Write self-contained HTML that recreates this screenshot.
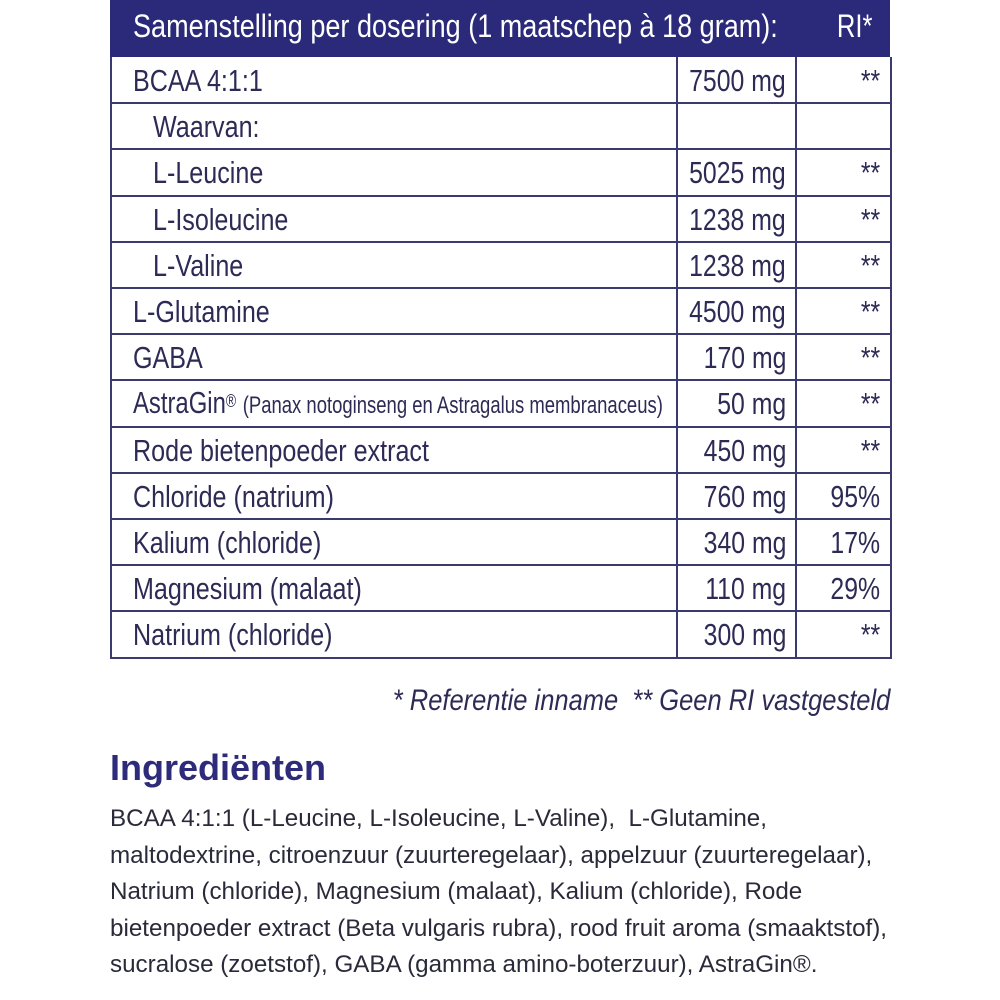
<!DOCTYPE html>
<html><head><meta charset="utf-8"><style>
body{margin:0;width:1000px;height:1000px;background:#fff;position:relative;overflow:hidden;font-family:"Liberation Sans",sans-serif;color:#2d2b55}
.hdr{position:absolute;left:110px;top:0;width:780px;height:57px;background:#2b2a7a;color:#fff;font-size:32px}
.t{position:absolute;white-space:nowrap;line-height:46px}
.L{transform:scaleX(0.81);transform-origin:left center}
.R{transform:scaleX(0.8);transform-origin:right center}
.vl{position:absolute;top:57px;width:2px;height:601px;background:#3b3a6e}
.c{font-size:31px}
.ing{position:absolute;left:110px;font-size:24.2px;white-space:nowrap;color:#2a2a3a}
</style></head><body>
<div class="hdr"><span class="t L" style="left:23px;top:3px;transform:scaleX(0.845)">Samenstelling per dosering (1 maatschep à 18 gram):</span><span class="t R" style="right:18px;top:3px">RI*</span></div>
<div style="position:absolute;left:110px;top:57px;width:778px;height:600px;border:2px solid #3b3a6e;border-top:none"></div>
<div class="vl" style="left:676px"></div><div class="vl" style="left:795px"></div>
<div id="rows"></div>
<script>
var d=[["BCAA 4:1:1","7500 mg","**",0],["Waarvan:","","",1],["L-Leucine","5025 mg","**",1],["L-Isoleucine","1238 mg","**",1],["L-Valine","1238 mg","**",1],["L-Glutamine","4500 mg","**",0],["GABA","170 mg","**",0],["AstraGin<span style='font-size:18px;vertical-align:6px'>®</span> <span style='font-size:24px'>(Panax notoginseng en Astragalus membranaceus)</span>","50 mg","**",0],["Rode bietenpoeder extract","450 mg","**",0],["Chloride (natrium)","760 mg","95%",0],["Kalium (chloride)","340 mg","17%",0],["Magnesium (malaat)","110 mg","29%",0],["Natrium (chloride)","300 mg","**",0]];
var h="";for(var i=0;i<d.length;i++){var y=57+i*46.2;
if(i>0)h+="<div style='position:absolute;left:110px;width:780px;height:2px;background:#3b3a6e;top:"+(y-1)+"px'></div>";
var st=(i==7)?"transform:scaleX(0.77);":"";
h+="<span class='t c L' style='"+st+"left:"+(d[i][3]?153:133)+"px;top:"+(y+(i==7?-2:1))+"px'>"+d[i][0]+"</span>";
h+="<span class='t c R' style='right:214px;top:"+(y+1)+"px'>"+d[i][1]+"</span>";
h+="<span class='t c R' style='right:120px;top:"+(y+1)+"px'>"+d[i][2]+"</span>";}
document.getElementById("rows").innerHTML=h;
</script>
<div class="t" style="right:110px;top:678px;font-size:30px;font-style:italic;transform:scaleX(0.85);transform-origin:right center">* Referentie inname&nbsp; ** Geen RI vastgesteld</div>
<div style="position:absolute;left:110px;top:747px;font-family:'Liberation Sans',sans-serif;font-weight:bold;font-size:36px;color:#2d2b7a">Ingrediënten</div>
<div class="ing" style="top:805px">BCAA 4:1:1 (L-Leucine, L-Isoleucine, L-Valine),&nbsp; L-Glutamine,</div>
<div class="ing" style="top:842px">maltodextrine, citroenzuur (zuurteregelaar), appelzuur (zuurteregelaar),</div>
<div class="ing" style="top:878px">Natrium (chloride), Magnesium (malaat), Kalium (chloride), Rode</div>
<div class="ing" style="top:915px">bietenpoeder extract (Beta vulgaris rubra), rood fruit aroma (smaaktstof),</div>
<div class="ing" style="top:951px">sucralose (zoetstof), GABA (gamma amino-boterzuur), AstraGin®.</div>
</body></html>
